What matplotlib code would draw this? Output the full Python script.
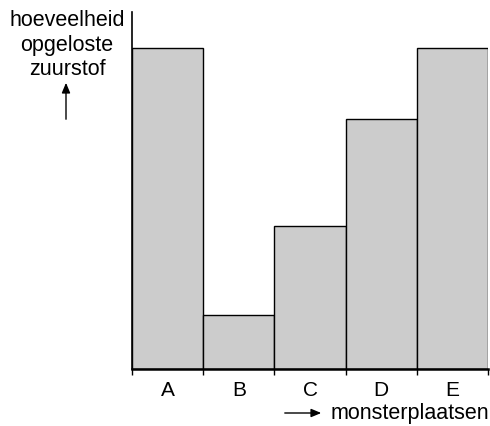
import matplotlib.pyplot as plt
import numpy as np

plt.rcParams['font.family'] = ['Liberation Sans', 'DejaVu Sans']

sites = ["A", "B", "C", "D", "E"]
oxygen = [9.0, 1.5, 4.0, 7.0, 9.0]

fig = plt.figure(figsize=(4.9, 4.26), dpi=100)
ax = fig.add_axes([132 / 490, 57 / 426, 356 / 490, 357 / 426])

x = np.arange(len(sites))
ax.bar(x, oxygen, width=1.0, color="#cccccc", edgecolor="black", linewidth=1.0)
ax.set_xlim(-0.5, len(sites) - 0.5)
ax.set_ylim(0, 10)

ax.spines["top"].set_visible(False)
ax.spines["right"].set_visible(False)
ax.spines["left"].set_linewidth(1.2)
ax.spines["bottom"].set_linewidth(1.8)
ax.set_yticks([])
ax.set_xticks(np.arange(len(sites) + 1) - 0.5)
ax.set_xticklabels([])
ax.tick_params(axis="x", length=4, width=1.0, direction="out")
for i, s in enumerate(sites):
    ax.text(i, -0.33, s, ha="center", va="top", fontsize=15)

fig.text(67 / 490, 1 - 45 / 426, "hoeveelheid\nopgeloste\nzuurstof", ha="center",
         va="center", fontsize=15.5, linespacing=1.22)
fig.add_artist(plt.matplotlib.patches.FancyArrowPatch(
    (66 / 490, 1 - 122 / 426), (66 / 490, 1 - 80 / 426), transform=fig.transFigure,
    arrowstyle="-|>,head_length=6,head_width=2.5", mutation_scale=1, color="black", lw=1.0))
fig.add_artist(plt.matplotlib.patches.FancyArrowPatch(
    (282 / 490, 1 - 413 / 426), (324 / 490, 1 - 413 / 426), transform=fig.transFigure,
    arrowstyle="-|>,head_length=6,head_width=2.5", mutation_scale=1, color="black", lw=1.0))
fig.text(331 / 490, 1 - 413 / 426, "monsterplaatsen", ha="left", va="center", fontsize=15.5)

fig.savefig("out.png", dpi=100)
